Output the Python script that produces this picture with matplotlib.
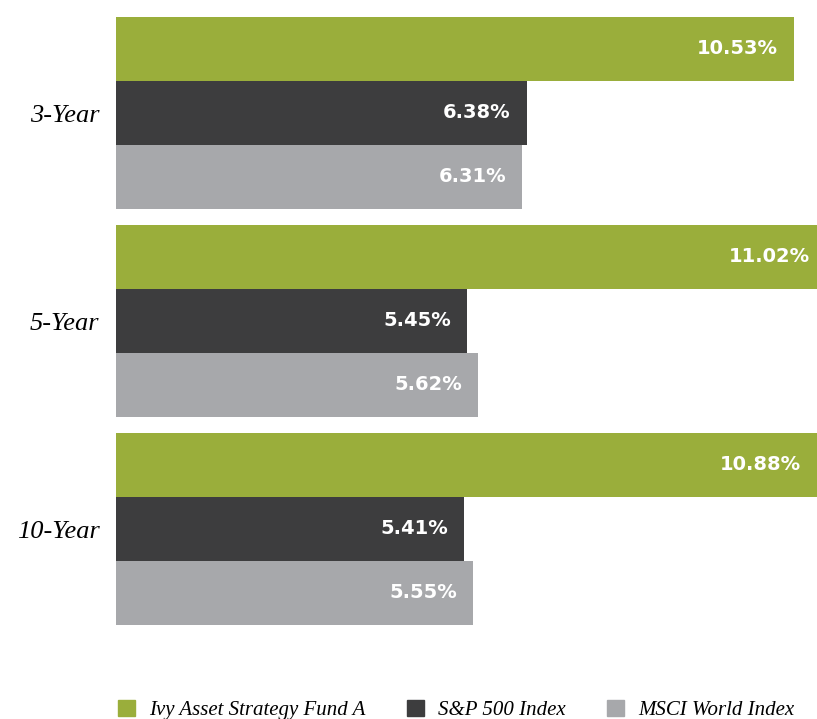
import matplotlib.pyplot as plt
from matplotlib.patches import Patch
import numpy as np

# data
periods = ['3-Year', '5-Year', '10-Year']
series = ['Ivy Asset Strategy Fund A', 'S&P 500 Index', 'MSCI World Index']
fund = [10.53, 11.02, 10.88]
sp500 = [6.38, 5.45, 5.41]
msci = [6.31, 5.62, 5.55]
colors = ['#9aae3b', '#3d3d3e', '#a7a8ab']

W, H = 817, 719
fig = plt.figure(figsize=(W / 100, H / 100), dpi=100)
ax = fig.add_axes([116 / W, (H - 625) / H, (W - 116) / W, 608 / H])

bh = 64 / 208
y = np.arange(len(periods))
for i, (vals, c) in enumerate(zip([fund, sp500, msci], colors)):
    ypos = y + (i - 1) * bh
    ax.barh(ypos, vals, height=bh, color=c, align='center')
    for yy, v in zip(ypos, vals):
        ax.annotate(f'{v:.2f}%', xy=(v, yy), xytext=(-16, 0),
                    textcoords='offset pixels',
                    ha='right', va='center', color='white', fontsize=14,
                    fontweight='bold', family='DejaVu Sans', annotation_clip=False)

ax.set_xlim(0, 701 / 64.4)
ax.set_ylim(2 + 1.5 * bh, -1.5 * bh)
ax.set_yticks(y)
ax.set_yticklabels(periods, family='Liberation Serif', style='italic', fontsize=19)
ax.tick_params(axis='y', length=0, pad=12)
ax.set_xticks([])
for s in ax.spines.values():
    s.set_visible(False)

handles = [Patch(color=c) for c in colors]
fig.legend(handles, series, loc='center left', bbox_to_anchor=(99 / W, 1 - 710 / H),
           ncol=3, frameon=False, prop={'family': 'Liberation Serif', 'style': 'italic', 'size': 15},
           handlelength=0.82, handleheight=0.82, handletextpad=0.67, columnspacing=2.0)

fig.savefig('out.png', dpi=100)
